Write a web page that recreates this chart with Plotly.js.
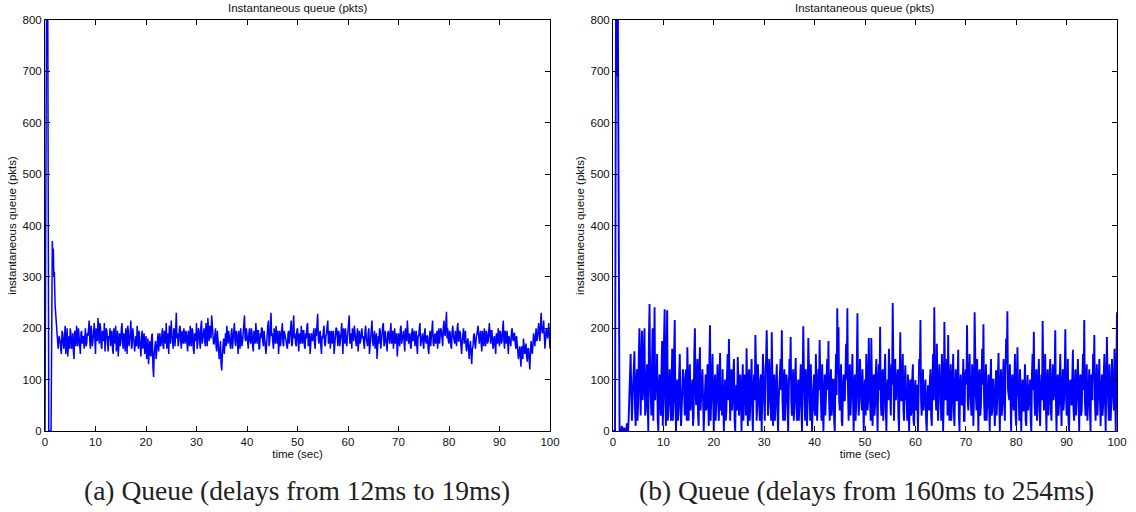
<!DOCTYPE html>
<html>
<head>
<meta charset="utf-8">
<script src="https://cdn.plot.ly/plotly-3.0.1.min.js"></script>
<style>html,body{margin:0;padding:0;background:#fff}#chart{width:1136px;height:512px}</style>
</head>
<body>
<div id="chart"></div>
<script>
// ---------- data ----------
const panelTitle = "Instantaneous queue (pkts)";
const yLabel = "instantaneous queue (pkts)";
const xLabel = "time (sec)";
const captionA = "(a) Queue (delays from 12ms to 19ms)";
const captionB = "(b) Queue (delays from 160ms to 254ms)";
const xTicks = [0,10,20,30,40,50,60,70,80,90,100];
const yTicks = [0,100,200,300,400,500,600,700,800];

// (a) start-up transient
const aStartTime = [0, 0.15, 0.3, 0.55, 0.75, 1.2, 1.3, 1.45, 1.55, 1.65, 1.75, 1.85, 2.0, 2.2, 2.4, 2.6, 2.8];
const aStartQueue = [0, 800, 820, 810, 0, 0, 260, 370, 330, 355, 300, 310, 245, 220, 190, 160, 185];
// (a) steady state, sampled every 0.25 s from t = 3 s
const aSampleStart = 3, aSampleStep = 0.25;
const aQueue = [
175,150,190,160,205,170,145,185,200,160,190,140,180,205,165,185,150,195,175,160,
200,170,185,215,160,195,175,210,150,190,220,170,200,160,185,210,175,195,155,180,
165,195,150,185,205,170,145,190,175,210,160,185,200,150,195,175,215,165,190,155,
185,205,160,180,145,195,170,150,185,160,130,175,145,190,105,160,140,175,155,190,
170,200,160,185,210,175,150,195,215,180,200,165,230,190,175,205,160,185,200,170,
190,155,180,205,165,195,150,185,210,170,195,160,215,180,200,165,190,220,175,195,
225,185,170,200,155,180,140,175,118,165,150,190,205,170,185,160,200,175,210,165,
190,150,180,200,165,195,225,175,185,160,200,170,190,155,185,210,170,195,160,180,
200,165,185,150,195,215,175,230,190,160,185,205,170,150,195,180,210,165,190,175,
160,195,180,215,170,225,190,165,200,155,185,205,170,195,160,180,210,175,150,190,
175,200,160,185,228,170,195,150,180,205,165,190,215,175,160,195,180,150,185,200,
165,190,175,210,150,185,200,165,195,225,175,160,190,205,170,185,155,195,175,200,
185,160,205,175,190,150,180,215,165,195,175,140,185,200,160,190,210,170,185,155,
195,170,210,180,160,200,175,145,190,165,205,180,195,155,185,215,170,190,160,200,
180,165,195,150,185,210,175,190,160,200,170,185,150,195,180,215,165,190,175,160,
200,180,195,165,215,185,232,200,170,190,160,205,180,195,165,210,175,190,150,185,
170,195,155,180,140,175,130,165,190,160,185,205,170,195,155,180,200,165,190,175,
210,170,195,160,185,150,180,200,165,190,175,215,160,185,195,150,180,165,200,175,
190,160,175,140,165,125,155,180,150,170,135,160,120,175,150,190,165,200,180,210,
175,230,190,215,160,200,180,210,160
];
// (a) in-between samples, half a step after each sample above
const aQueueMid = [
160,195,170,185,150,200,175,160,190,170,155,195,165,180,200,160,190,170,185,195,
165,190,200,175,205,165,190,160,200,175,185,210,165,195,175,155,200,170,185,200,
190,160,200,170,155,195,180,165,200,170,190,155,180,205,165,190,160,200,175,185,
165,180,195,150,185,160,190,175,140,180,160,150,185,125,150,175,160,190,170,165,
185,165,195,170,160,190,205,170,185,160,195,220,180,165,200,175,195,170,185,195,
170,195,165,185,200,160,190,175,160,200,175,205,170,190,175,210,165,185,205,180,
200,170,190,165,195,160,155,130,150,180,170,165,185,195,170,190,160,185,175,195,
170,195,160,185,175,210,180,200,165,190,175,200,165,195,170,185,195,160,190,200,
175,195,165,180,205,165,200,185,170,200,170,185,195,175,165,200,170,195,180,165,
190,170,200,165,205,180,170,195,175,190,170,185,195,165,190,205,165,190,170,180,
190,170,200,210,180,190,165,185,195,170,185,205,170,195,185,170,195,170,200,170,
195,165,190,175,200,170,185,180,210,170,190,200,175,185,165,200,180,170,190,180,
170,195,180,165,200,170,195,175,185,160,190,165,170,195,180,205,165,195,170,190,
180,195,170,195,185,170,190,165,175,200,170,190,170,200,175,190,185,165,190,175,
195,175,165,185,200,165,190,170,190,175,185,160,180,165,200,170,185,170,195,185,
170,200,175,200,190,210,180,175,195,165,195,185,170,180,200,175,195,165,175,200,
185,165,175,160,165,150,160,185,170,180,195,175,185,170,195,165,180,195,170,195,
185,195,170,180,165,190,170,180,195,170,200,175,195,170,165,185,170,195,180,190,
170,185,155,160,145,165,140,165,160,145,160,140,150,160,170,175,185,175,195,190,
205,200,195,185,180,195,190,185
];

// (b) start-up transient
const bStartTime = [0, 0.4, 0.6, 0.75, 0.85, 0.95, 1.05, 1.15, 1.3];
const bStartQueue = [0, 0, 850, 690, 720, 850, 460, 510, 0];
// (b) steady state, sampled every 0.25 s from t = 1.5 s
const bSampleStart = 1.5, bSampleStep = 0.25;
const bQueue = [
0,10,0,5,0,15,0,60,150,20,100,155,10,120,60,200,30,195,80,200,
40,130,0,247,60,140,20,241,90,150,0,110,30,175,60,237,10,235,70,120,
20,160,60,216,0,100,40,150,10,80,110,30,120,163,20,130,60,100,30,200,
50,140,10,163,70,120,0,90,40,130,10,206,60,150,0,110,50,130,20,152,
70,120,0,100,40,150,179,20,120,60,140,0,90,144,30,110,0,130,60,100,
161,10,120,70,140,0,110,187,20,130,60,100,0,150,40,120,196,30,140,60,
192,10,110,50,130,0,90,140,196,20,120,60,100,0,140,183,30,120,60,142,
20,100,50,130,0,204,60,120,10,181,70,130,0,100,40,150,20,120,177,40,
130,0,110,60,140,175,20,120,50,100,0,150,239,202,40,130,10,110,60,170,
239,20,130,70,150,0,110,50,229,30,140,80,120,0,100,150,40,181,60,181,
10,110,50,140,0,130,203,30,120,70,150,0,100,160,40,130,249,20,140,80,
120,0,192,60,150,20,128,70,110,0,100,40,130,10,99,60,0,140,216,30,
120,60,100,0,89,40,120,10,150,241,60,170,20,130,80,150,0,212,60,140,
187,20,130,70,150,10,120,60,158,0,110,50,140,20,120,206,40,150,60,130,
10,231,70,140,0,120,50,160,208,20,130,60,110,0,140,40,100,10,118,60,
152,0,120,50,140,20,180,233,60,130,0,110,40,150,10,163,70,120,0,100,
40,130,10,109,60,100,0,150,193,30,120,60,140,10,110,214,40,150,0,120,
60,140,20,130,70,196,0,110,50,150,10,120,60,198,30,140,0,100,50,158,
20,120,60,140,0,110,40,150,216,30,130,70,120,0,100,150,187,20,130,60,
140,10,110,50,150,0,183,60,130,20,140,70,160,0,231
];
// (b) in-between samples, half a step after each sample above
const bQueueMid = [
0,0,5,0,0,0,30,100,80,60,130,40,90,20,150,90,140,60,160,30,
90,60,180,100,30,200,110,60,80,20,90,60,120,10,180,70,150,20,90,50,
100,20,150,60,70,20,110,60,40,120,60,90,20,100,80,40,90,10,150,80,
100,30,120,40,90,60,40,110,60,90,140,20,100,60,80,20,110,60,100,40,
30,60,70,20,110,60,100,80,40,110,20,80,40,100,60,70,80,20,110,30,
60,80,20,110,40,80,60,130,50,90,20,110,60,90,20,140,80,60,100,20,
80,60,20,110,40,60,120,80,60,90,20,110,40,70,100,60,80,20,110,50,
70,20,110,40,90,120,20,90,60,100,20,80,50,110,30,90,60,80,100,20,
70,60,30,110,80,60,90,30,100,20,90,70,110,60,100,20,80,60,110,100,
80,100,30,110,60,90,20,130,80,60,100,40,70,80,30,110,60,100,20,90,
60,30,110,60,90,80,60,100,20,120,40,80,60,110,30,90,110,80,60,110,
30,100,60,110,40,90,60,20,90,60,30,100,20,80,40,90,60,110,60,90,
40,80,20,60,50,100,30,90,60,110,40,110,60,90,20,100,60,110,80,30,
80,70,20,110,40,80,60,100,30,90,60,80,20,110,90,60,100,80,30,100,
70,90,40,60,110,30,100,90,60,80,20,110,50,90,30,100,60,50,30,100,
60,90,30,100,60,110,130,80,60,20,100,60,90,30,100,70,20,80,60,40,
90,20,80,40,60,20,110,80,60,90,20,100,40,80,60,110,90,60,100,30,
80,40,90,60,110,60,90,30,100,60,80,40,110,80,60,20,90,60,100,40,
80,30,90,60,100,30,100,80,60,100,20,100,40,110,60,100,60,80,30,110,
60,80,30,110,60,90,100,20,90,60,100,40,80,110
];

// ---------- build series ----------
function series(startT, startQ, t0, dt, q, qMid) {
  const x = startT.slice(), y = startQ.slice();
  q.forEach((v, i) => {
    x.push(t0 + i * dt); y.push(v);
    if (i < qMid.length) { x.push(t0 + (i + 0.5) * dt); y.push(qMid[i]); }
  });
  return {x, y};
}
const A = series(aStartTime, aStartQueue, aSampleStart, aSampleStep, aQueue, aQueueMid);
const B = series(bStartTime, bStartQueue, bSampleStart, bSampleStep, bQueue, bQueueMid);

const traces = [
  {x: A.x, y: A.y, type: 'scatter', mode: 'lines', line: {color: '#0000ff', width: 1.5}, xaxis: 'x', yaxis: 'y', hoverinfo: 'skip'},
  {x: B.x, y: B.y, type: 'scatter', mode: 'lines', line: {color: '#0000ff', width: 1.9}, xaxis: 'x2', yaxis: 'y2', hoverinfo: 'skip'}
];

const W = 1136, H = 512;
const tickFont = {family: 'Liberation Sans, Arial, sans-serif', size: 11.5, color: '#111'};
const labelFont = {family: 'Liberation Sans, Arial, sans-serif', size: 11.5, color: '#111'};
const capFont = {family: 'Liberation Serif, Times New Roman, serif', size: 27.5, color: '#222'};
function xa(d) {
  return {domain: d, range: [0, 100], tickvals: xTicks, ticks: 'inside', ticklen: 5, tickcolor: '#000',
    showline: true, mirror: 'ticks', linecolor: '#000', linewidth: 1, showgrid: false, zeroline: false,
    tickfont: tickFont, title: {text: xLabel, font: labelFont, standoff: 3}, fixedrange: true};
}
function ya(d, anchor) {
  return {domain: d, range: [0, 800], tickvals: yTicks, ticks: 'inside', ticklen: 5, tickcolor: '#000',
    showline: true, mirror: 'ticks', linecolor: '#000', linewidth: 1, showgrid: false, zeroline: false,
    tickfont: tickFont, anchor: anchor, title: {text: yLabel, font: labelFont, standoff: 3}, fixedrange: true};
}
const yDom = [1 - 431 / H, 1 - 20 / H];
const layout = {
  width: W, height: H,
  margin: {l: 0, r: 0, t: 0, b: 0},
  paper_bgcolor: '#fff', plot_bgcolor: '#fff',
  showlegend: false,
  xaxis: Object.assign(xa([45 / W, 550 / W]), {anchor: 'y'}),
  yaxis: ya(yDom, 'x'),
  xaxis2: Object.assign(xa([613 / W, 1117 / W]), {anchor: 'y2'}),
  yaxis2: ya(yDom, 'x2'),
  annotations: [
    {text: panelTitle, xref: 'paper', yref: 'paper', x: 297.5 / W, y: 1 - 8 / H, showarrow: false, font: labelFont, xanchor: 'center', yanchor: 'middle'},
    {text: panelTitle, xref: 'paper', yref: 'paper', x: 865 / W, y: 1 - 8 / H, showarrow: false, font: labelFont, xanchor: 'center', yanchor: 'middle'},
    {text: captionA, xref: 'paper', yref: 'paper', x: 297 / W, y: 1 - 490 / H, showarrow: false, font: capFont, xanchor: 'center', yanchor: 'middle'},
    {text: captionB, xref: 'paper', yref: 'paper', x: 866 / W, y: 1 - 490 / H, showarrow: false, font: capFont, xanchor: 'center', yanchor: 'middle'}
  ]
};
Plotly.newPlot('chart', traces, layout, {displayModeBar: false, staticPlot: true});
</script>
</body>
</html>
